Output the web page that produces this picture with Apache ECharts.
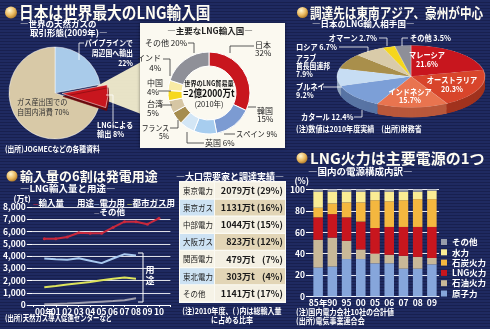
<!DOCTYPE html>
<html><head><meta charset="utf-8">
<script src="https://cdn.jsdelivr.net/npm/echarts@6/dist/echarts.min.js"></script>
<style>
html,body{margin:0;padding:0;}
body{width:490px;height:329px;overflow:hidden;position:relative;
background:#1b2458;
background-image:repeating-linear-gradient(180deg,#1f2a61 0px,#1f2a61 2px,#18204f 2px,#18204f 3px);}
#pie3d{position:absolute;left:336px;top:45px;width:150px;height:180px;transform:scaleY(0.419);transform-origin:0 0;}
#main{position:absolute;left:0;top:0;width:490px;height:329px;}
</style></head><body>
<div id="pie3d"></div>
<div id="main"></div>
<script>
// ---------- data ----------
const worldGasNames = ['パイプラインで周辺国へ輸出', 'LNGによる輸出', 'ガス産出国での自国内消費'];
const worldGasShares = [22, 8, 70];

const importerNames = ['日本', '韓国', 'スペイン', '英国', 'フランス', '台湾', '中国', 'インド', 'その他'];
const importerShares = [32, 15, 9, 6, 5, 5, 4, 4, 20];

const supplierNames = ['マレーシア', 'オーストラリア', 'インドネシア', 'カタール', 'ブルネイ', 'アラブ首長国連邦', 'ロシア', 'オマーン', 'その他'];
const supplierShares = [21.6, 20.3, 15.7, 12.4, 9.2, 7.9, 6.7, 2.7, 3.5];

const years = ['00年', '01', '02', '03', '04', '05', '06', '07', '08', '09', '10'];
const importVolume = [5400, 5400, 5550, 5900, 5850, 5850, 6330, 6800, 6800, 6600, 7080];
const powerUse = [3800, 3730, 3700, 3820, 3620, 3420, 3800, 4150, 4050, null, null];
const cityGasUse = [1450, 1550, 1680, 1780, 1880, 2020, 2150, 2250, 2150, null, null];
const otherUse = [60, 90, 120, 170, 220, 270, 320, 380, 550, null, null];

const buyers = ['東京電力', '東京ガス', '中部電力', '大阪ガス', '関西電力', '東北電力', 'その他'];
const buyerVolumes = ['2079万t', '1131万t', '1044万t', '823万t', '479万t', '303万t', '1141万t'];
const buyerShares = ['(29%)', '(16%)', '(15%)', '(12%)', '(7%)', '(4%)', '(17%)'];

const powerYears = ['85年', '90', '95', '00', '05', '06', '07', '08', '09'];
const nuclear = [27, 28, 35, 35, 31, 31, 26, 26, 30];
const oilFired = [26, 27, 17, 9, 9, 8, 12, 11, 6];
const lngFired = [21, 22, 22, 26, 24, 26, 27, 28, 29];
const coalFired = [9, 10, 14, 18, 26, 24, 25, 26, 26];
const hydro = [15, 11, 10, 10, 8, 9, 8, 7, 8];
const otherSource = [2, 2, 2, 2, 2, 2, 2, 2, 1];

// ---------- styles ----------
const FONT = '"Noto Sans CJK JP","Noto Sans",sans-serif';
const worldGasColors = ['#a9cbea', '#c8161e', '#d8c9a7'];
const importerColors = ['#c8161e', '#7c9bd2', '#a7cdef', '#d3e6f5', '#a68d4f', '#d6c6a4', '#f6d81e', '#f9eba5', '#8f9098'];
const supplierTop = ['#c8161e', '#d8452b', '#e9744f', '#7c9fd7', '#c7ddf3', '#a98f4b', '#d9cba9', '#f5d61c', '#8e8f98'];
const supplierSide = ['#8d0f15', '#a2331e', '#b9583b', '#5874a4', '#8fa3bd', '#77643a', '#a39779', '#b89d0f', '#65666e'];
const sourceColors = {nuclear:'#86a6db', oil:'#c8b898', lng:'#c8161e', coal:'#f4b73f', hydro:'#faec94', other:'#979caa'};

function T(x, y, text, o) {
  o = o || {};
  const size = o.size || 8;
  return {
    type: 'text', x: x, y: y, z: o.z || 30, scaleX: o.sx || 1, silent: true,
    style: {
      text: text, x: 0, y: 0, fill: o.color || '#ffffff',
      fontSize: size, fontFamily: FONT, fontWeight: o.weight || 'bold',
      align: o.align || 'left', verticalAlign: 'middle', lineHeight: o.lh || size + 1
    }
  };
}
function L(points, color, w) {
  return {type: 'polyline', z: 25, silent: true, shape: {points: points},
    style: {stroke: color || '#ffffff', lineWidth: w || 0.8, fill: null}};
}
function bullet(cx, cy, r) {
  return {type: 'circle', z: 30, silent: true, shape: {cx: cx, cy: cy, r: r},
    style: {fill: new echarts.graphic.RadialGradient(0.38, 0.32, 0.75, [
      {offset: 0, color: '#fff6d0'}, {offset: 0.55, color: '#ebbb62'}, {offset: 1, color: '#a8701f'}])}};
}

const graphics = [
  // titles
  bullet(11, 12.5, 6), T(19, 13, '日本は世界最大のLNG輸入国', {size: 16.5, sx: 0.89, color: '#fffdf2'}),
  bullet(302.5, 12.5, 5.5), T(310, 13, '調達先は東南アジア、豪州が中心', {size: 14, sx: 0.83, color: '#fffdf2'}),
  bullet(12, 176, 5.5), T(20, 176, '輸入量の6割は発電用途', {size: 13, color: '#fffdf2'}),
  bullet(302, 158, 5.5), T(310, 158, 'LNG火力は主要電源の1つ', {size: 15, color: '#fffdf2'}),
  // panel 1
  T(20, 24, '―世界の天然ガスの', {size: 8.5}),
  T(30, 33, '取引形態(2009年)―', {size: 8.5}),
  {type: 'polygon', z: 1, silent: true, shape: {points: [[97, 86], [141, 62], [141, 114], [97, 97]]},
    style: {fill: 'rgba(250,243,208,0.92)'}},
  {type: 'rect', z: 1, silent: true, shape: {x: 140, y: 23, width: 145, height: 125},
    style: {fill: '#fbf9f0', shadowBlur: 3, shadowColor: 'rgba(0,0,0,0.45)'}},
  T(133, 53, 'パイプラインで\n周辺国へ輸出\n22%', {align: 'right', lh: 10, sx: 0.86}),
  L([[84, 43], [79, 43], [79, 60]]),
  T(17, 107, 'ガス産出国での\n自国内消費 70%', {color: '#333', weight: 'normal', lh: 10, sx: 0.9}),
  T(97, 129, 'LNGによる\n輸出 8%', {lh: 9, sx: 0.9}),
  L([[106, 95], [113, 95], [113, 121]]),
  T(5, 149, '(出所)JOGMECなどの各種資料', {sx: 0.85}),
  // donut
  T(210, 31, '―主要なLNG輸入国―', {size: 8.5, color: '#222', align: 'center'}),
  T(209, 83, '世界のLNG貿易量', {size: 7, color: '#222', align: 'center', sx: 0.88}),
  T(209, 93.5, '=2億2000万t', {size: 10.5, color: '#111', align: 'center', sx: 0.82}),
  T(209, 104, '(2010年)', {size: 7.5, color: '#222', align: 'center', weight: 'normal'}),
  T(145, 43, 'その他 20%', {color: '#222', weight: 'normal'}),
  T(161, 63, 'インド\n4%', {color: '#222', weight: 'normal', align: 'right', lh: 10}),
  T(147, 87.5, '中国\n4%', {color: '#222', weight: 'normal', lh: 9}),
  T(147, 108.5, '台湾\n5%', {color: '#222', weight: 'normal', lh: 9}),
  T(169, 132, 'フランス\n5%', {color: '#222', weight: 'normal', align: 'right', lh: 8.5, sx: 0.85}),
  T(205, 143, '英国 6%', {color: '#222', weight: 'normal'}),
  T(236, 134, 'スペイン 9%', {color: '#222', weight: 'normal', sx: 0.9}),
  T(257, 115, '韓国\n15%', {color: '#222', weight: 'normal', lh: 8.5}),
  T(255, 49, '日本\n32%', {color: '#222', weight: 'normal', lh: 8.5}),
  L([[188, 43], [194, 43], [194, 53]], '#333'),
  L([[163, 59], [170, 59], [170, 76]], '#333'),
  L([[158, 91], [171, 91]], '#333'),
  L([[159, 105], [172, 105]], '#333'),
  L([[170, 128], [178, 128], [178, 120]], '#333'),
  L([[204, 143], [187, 143], [187, 132]], '#333'),
  L([[235, 134], [224, 134]], '#333'),
  L([[256, 107], [248, 107]], '#333'),
  L([[254, 46], [230, 46], [230, 53]], '#333'),
  // panel 2 (3d pie labels)
  T(312, 24, '―日本のLNG輸入相手国―', {size: 8.5}),
  T(427, 59.5, 'マレーシア\n21.6%', {align: 'center', lh: 9, sx: 0.9}),
  T(452, 84.5, 'オーストラリア\n20.3%', {align: 'center', lh: 9, sx: 0.9}),
  T(410, 96, 'インドネシア\n15.7%', {align: 'center', lh: 8.5, sx: 0.9}),
  T(377, 38, 'オマーン 2.7%', {align: 'right', sx: 0.9}),
  T(410, 38, 'その他 3.5%', {sx: 0.9}),
  T(296, 47, 'ロシア 6.7%', {sx: 0.9}),
  T(296, 65.5, 'アラブ\n首長国連邦\n7.9%', {lh: 8, sx: 0.85}),
  T(296, 91, 'ブルネイ\n9.2%', {lh: 8.5, sx: 0.9}),
  T(301, 117, 'カタール 12.4%', {sx: 0.9}),
  L([[379, 38], [387, 38], [387, 46]]),
  L([[408, 38], [402, 38], [402, 46]]),
  L([[339, 47], [368, 47], [368, 52]]),
  L([[323, 87], [342, 87]]),
  L([[354, 117], [362, 117], [362, 110]]),
  T(296, 129, '(注)数値は2010年度実績　(出所)財務省', {sx: 0.88}),
  // panel 3
  T(20, 188, '―LNG輸入量と用途―', {size: 9.5}),
  T(77, 203, '用途', {size: 8.5}),
  L([[138, 253], [143, 253], [143, 302], [138, 302]], '#ffffff', 1),
  T(150, 275.5, '用\n途', {size: 9, lh: 11, align: 'center'}),
  T(5, 318, '(出所)天然ガス導入促進センターなど', {sx: 0.8}),
  T(230, 177, '―大口需要家と調達実績―', {size: 9, align: 'center'}),
  {type: 'rect', z: 1, silent: true, shape: {x: 179, y: 181, width: 107, height: 122}, style: {fill: '#fbfaf3'}},
  T(232, 315.5, '(注)2010年度、( )内は総輸入量\nに占める比率', {align: 'center', lh: 8.5, sx: 0.88}),
  // panel 4
  T(308, 171, '―国内の電源構成内訳―', {size: 9.5}),
  T(296, 311.5, '(注)国内電力会社10社の合計値', {sx: 0.88}),
  T(296, 321, '(出所)電気事業連合会', {sx: 0.88})
];

const lineCats = [''].concat(years, ['']);
const pad = arr => [null].concat(arr, [null]);
const white = '#ffffff';
const legendRich = {
  r: {color: '#d02a40', fontSize: 6, fontFamily: FONT, fontWeight: 'bold', verticalAlign: 'middle'},
  b: {color: '#a9c9ef', fontSize: 6, fontFamily: FONT, fontWeight: 'bold', verticalAlign: 'middle'},
  y: {color: '#dde35c', fontSize: 6, fontFamily: FONT, fontWeight: 'bold', verticalAlign: 'middle'},
  g: {color: '#a0a0b2', fontSize: 6, fontFamily: FONT, fontWeight: 'bold', verticalAlign: 'middle'},
  t: {color: white, fontSize: 8.5, fontFamily: FONT, fontWeight: 'bold', verticalAlign: 'middle'}
};
const legendKey = {'輸入量': 'r', '電力用': 'b', '都市ガス用': 'y', 'その他用途': 'g'};
const legendLabel = {'輸入量': '輸入量', '電力用': '電力用', '都市ガス用': '都市ガス用', 'その他用途': 'その他'};
function lineLegend(names, left, top) {
  return {data: names, left: left, top: top, orient: 'horizontal', padding: 0, itemGap: -3,
    itemWidth: 0, itemHeight: 8, icon: 'rect', itemStyle: {opacity: 0}, selectedMode: false,
    formatter: n => '{' + legendKey[n] + '|—}{t|' + legendLabel[n] + '}',
    textStyle: {color: white, fontSize: 8.5, fontFamily: FONT, rich: legendRich}};
}
const barLegendMap = {'発電その他': 'その他', '水力': '水力', '石炭火力': '石炭火力', 'LNG火力': 'LNG火力', '石油火力': '石油火力', '原子力': '原子力'};

const axisTxt = {color: white, fontSize: 8.5, fontFamily: FONT, fontWeight: 'bold'};

const main = echarts.init(document.getElementById('main'));
main.setOption({
  animation: false,
  backgroundColor: 'transparent',
  textStyle: {fontFamily: FONT},
  grid: [
    {left: 21.6, right: 319.6, top: 207, bottom: 24},
    {left: 180, top: 182, width: 105, height: 120},
    {left: 311, top: 189.5, width: 128, height: 107}
  ],
  xAxis: [
    {type: 'category', gridIndex: 0, data: lineCats, boundaryGap: false,
      axisLine: {lineStyle: {color: white, width: 1}}, axisTick: {show: true, length: 2, lineStyle: {color: white}},
      axisLabel: Object.assign({interval: 0, margin: 3}, axisTxt)},
    {type: 'value', gridIndex: 1, min: 0, max: 3, show: false},
    {type: 'category', gridIndex: 2, data: powerYears,
      axisLine: {lineStyle: {color: white, width: 1}}, axisTick: {show: false},
      axisLabel: Object.assign({interval: 0, margin: 2}, axisTxt)}
  ],
  yAxis: [
    {type: 'value', gridIndex: 0, min: 0, max: 8000, interval: 1000,
      name: '(万t)', nameLocation: 'end', nameGap: 3,
      nameTextStyle: Object.assign({align: 'right', verticalAlign: 'bottom', padding: [0, 2, 0, 0]}, axisTxt, {fontSize: 8}),
      axisLine: {show: false}, axisTick: {show: true, length: 6, lineStyle: {color: white}},
      splitLine: {lineStyle: {color: 'rgba(255,255,255,0.85)', width: 1}},
      axisLabel: Object.assign({margin: 7, formatter: v => String(v).replace(/\B(?=(\d{3})+$)/g, ',')}, axisTxt)},
    {type: 'category', gridIndex: 1, data: buyers, inverse: true, show: false},
    {type: 'value', gridIndex: 2, min: 0, max: 100, interval: 20,
      name: '(%)', nameLocation: 'end', nameGap: 3,
      nameTextStyle: Object.assign({align: 'right', verticalAlign: 'bottom', padding: [0, 2, 0, 0]}, axisTxt),
      axisLine: {show: false}, axisTick: {show: true, length: 5, lineStyle: {color: white}},
      splitLine: {lineStyle: {color: 'rgba(255,255,255,0.9)', width: 1}},
      axisLabel: Object.assign({margin: 6}, axisTxt)}
  ],
  legend: [
    lineLegend(['輸入量'], 28, 199),
    lineLegend(['電力用', '都市ガス用'], 89, 199),
    lineLegend(['その他用途'], 89, 208),
    {data: ['発電その他', '水力', '石炭火力', 'LNG火力', '石油火力', '原子力'], orient: 'vertical',
      left: 441, top: 237, padding: 0, itemWidth: 6, itemHeight: 6, itemGap: 0.3, icon: 'rect',
      selectedMode: false, formatter: n => barLegendMap[n],
      textStyle: {color: white, fontSize: 8.5, fontFamily: FONT, fontWeight: 'bold', lineHeight: 10}}
  ],
  series: [
    {type: 'pie', name: '天然ガス取引形態', center: [55, 93], radius: 46, startAngle: 90, clockwise: true,
      selectedMode: 'single', selectedOffset: 7, silent: true, z: 3,
      label: {show: false}, labelLine: {show: false},
      itemStyle: {borderColor: '#ffffff', borderWidth: 0.5},
      data: worldGasNames.map((n, i) => ({name: n, value: worldGasShares[i], selected: i === 1,
        itemStyle: i === 1 ? {color: worldGasColors[i], shadowColor: '#6a080d', shadowOffsetY: 3, shadowOffsetX: 1, shadowBlur: 0.1}
                           : {color: worldGasColors[i]}}))},
    {type: 'pie', name: '主要なLNG輸入国', center: [209, 93], radius: [27, 41], startAngle: 90, clockwise: true,
      silent: true, z: 3, label: {show: false}, labelLine: {show: false},
      itemStyle: {borderColor: '#ffffff', borderWidth: 1},
      data: importerNames.map((n, i) => ({name: n, value: importerShares[i], itemStyle: {color: importerColors[i]}}))},
    {type: 'line', name: '輸入量', xAxisIndex: 0, yAxisIndex: 0, data: pad(importVolume), z: 5,
      color: '#c8283c', lineStyle: {width: 2, color: '#c8283c'}, symbol: 'circle', symbolSize: 3, showSymbol: true,
      itemStyle: {color: '#c8283c'}},
    {type: 'line', name: '電力用', xAxisIndex: 0, yAxisIndex: 0, data: pad(powerUse), z: 5,
      color: '#a9c9ef', lineStyle: {width: 2, color: '#a9c9ef'}, symbol: 'none'},
    {type: 'line', name: '都市ガス用', xAxisIndex: 0, yAxisIndex: 0, data: pad(cityGasUse), z: 5,
      color: '#dde35c', lineStyle: {width: 2, color: '#dde35c'}, symbol: 'none'},
    {type: 'line', name: 'その他用途', xAxisIndex: 0, yAxisIndex: 0, data: pad(otherUse), z: 5,
      color: '#9c9cae', lineStyle: {width: 2, color: '#9c9cae'}, symbol: 'none'},
    {type: 'custom', name: '大口需要家と調達実績', xAxisIndex: 1, yAxisIndex: 1, z: 4, silent: true,
      encode: {x: 0, y: 1},
      data: buyers.map((b, i) => [0, i]),
      renderItem: function (params, api) {
        const r = api.value(1);
        const a = api.coord([0, r]), b = api.coord([1, r]), c = api.coord([3, r]);
        const h = api.size([0, 1])[1];
        const y0 = a[1] - h / 2;
        const even = r % 2 === 0;
        const vx = api.coord([2.14, r])[0], sx = api.coord([2.94, r])[0];
        const tx = (x, s, align, w, size, sc) => ({type: 'text', x: x, y: a[1], scaleX: sc || 1,
          style: {text: s, x: 0, y: 0, fill: '#1a1a1a', fontSize: size, fontFamily: FONT, fontWeight: w, align: align, verticalAlign: 'middle'}});
        return {type: 'group', children: [
          {type: 'rect', shape: {x: a[0], y: y0 + 0.5, width: b[0] - a[0] - 1, height: h - 1.2}, style: {fill: even ? '#f6f3e7' : '#cde2f3'}},
          {type: 'rect', shape: {x: b[0], y: y0 + 0.5, width: c[0] - b[0], height: h - 1.2}, style: {fill: even ? '#f4f0e3' : '#e2d5b6'}},
          tx(a[0] + 3, buyers[r], 'left', 'normal', 8.5, 0.88),
          tx(vx, buyerVolumes[r], 'right', 'bold', 9),
          tx(sx, buyerShares[r], 'right', 'bold', 9)
        ]};
      }},
    {type: 'bar', name: '原子力', stack: 'p', xAxisIndex: 2, yAxisIndex: 2, data: nuclear, barCategoryGap: '33%', color: sourceColors.nuclear, itemStyle: {color: sourceColors.nuclear}},
    {type: 'bar', name: '石油火力', stack: 'p', xAxisIndex: 2, yAxisIndex: 2, data: oilFired, color: sourceColors.oil, itemStyle: {color: sourceColors.oil}},
    {type: 'bar', name: 'LNG火力', stack: 'p', xAxisIndex: 2, yAxisIndex: 2, data: lngFired, color: sourceColors.lng, itemStyle: {color: sourceColors.lng}},
    {type: 'bar', name: '石炭火力', stack: 'p', xAxisIndex: 2, yAxisIndex: 2, data: coalFired, color: sourceColors.coal, itemStyle: {color: sourceColors.coal}},
    {type: 'bar', name: '水力', stack: 'p', xAxisIndex: 2, yAxisIndex: 2, data: hydro, color: sourceColors.hydro, itemStyle: {color: sourceColors.hydro}},
    {type: 'bar', name: '発電その他', stack: 'p', xAxisIndex: 2, yAxisIndex: 2, data: otherSource, color: sourceColors.other, itemStyle: {color: sourceColors.other}}
  ],
  graphic: graphics
});

// 3D-looking supplier pie (squashed vertically by CSS)
const pie3d = echarts.init(document.getElementById('pie3d'));
const pieSeries = [];
for (let k = 12; k >= 1; k--) {
  pieSeries.push({type: 'pie', center: [75, 75 + k * 2], radius: 74, startAngle: 90, silent: true, z: 1,
    label: {show: false}, labelLine: {show: false},
    data: supplierNames.map((n, i) => ({name: n, value: supplierShares[i], itemStyle: {color: supplierSide[i]}}))});
}
pieSeries.push({type: 'pie', name: '日本のLNG輸入相手国', center: [75, 75], radius: 74, startAngle: 90, silent: true, z: 2,
  label: {show: false}, labelLine: {show: false},
  itemStyle: {borderColor: 'rgba(255,255,255,0.5)', borderWidth: 0.6},
  data: supplierNames.map((n, i) => ({name: n, value: supplierShares[i], itemStyle: {color: supplierTop[i]}}))});
pie3d.setOption({animation: false, backgroundColor: 'transparent', series: pieSeries});
</script>
</body></html>
